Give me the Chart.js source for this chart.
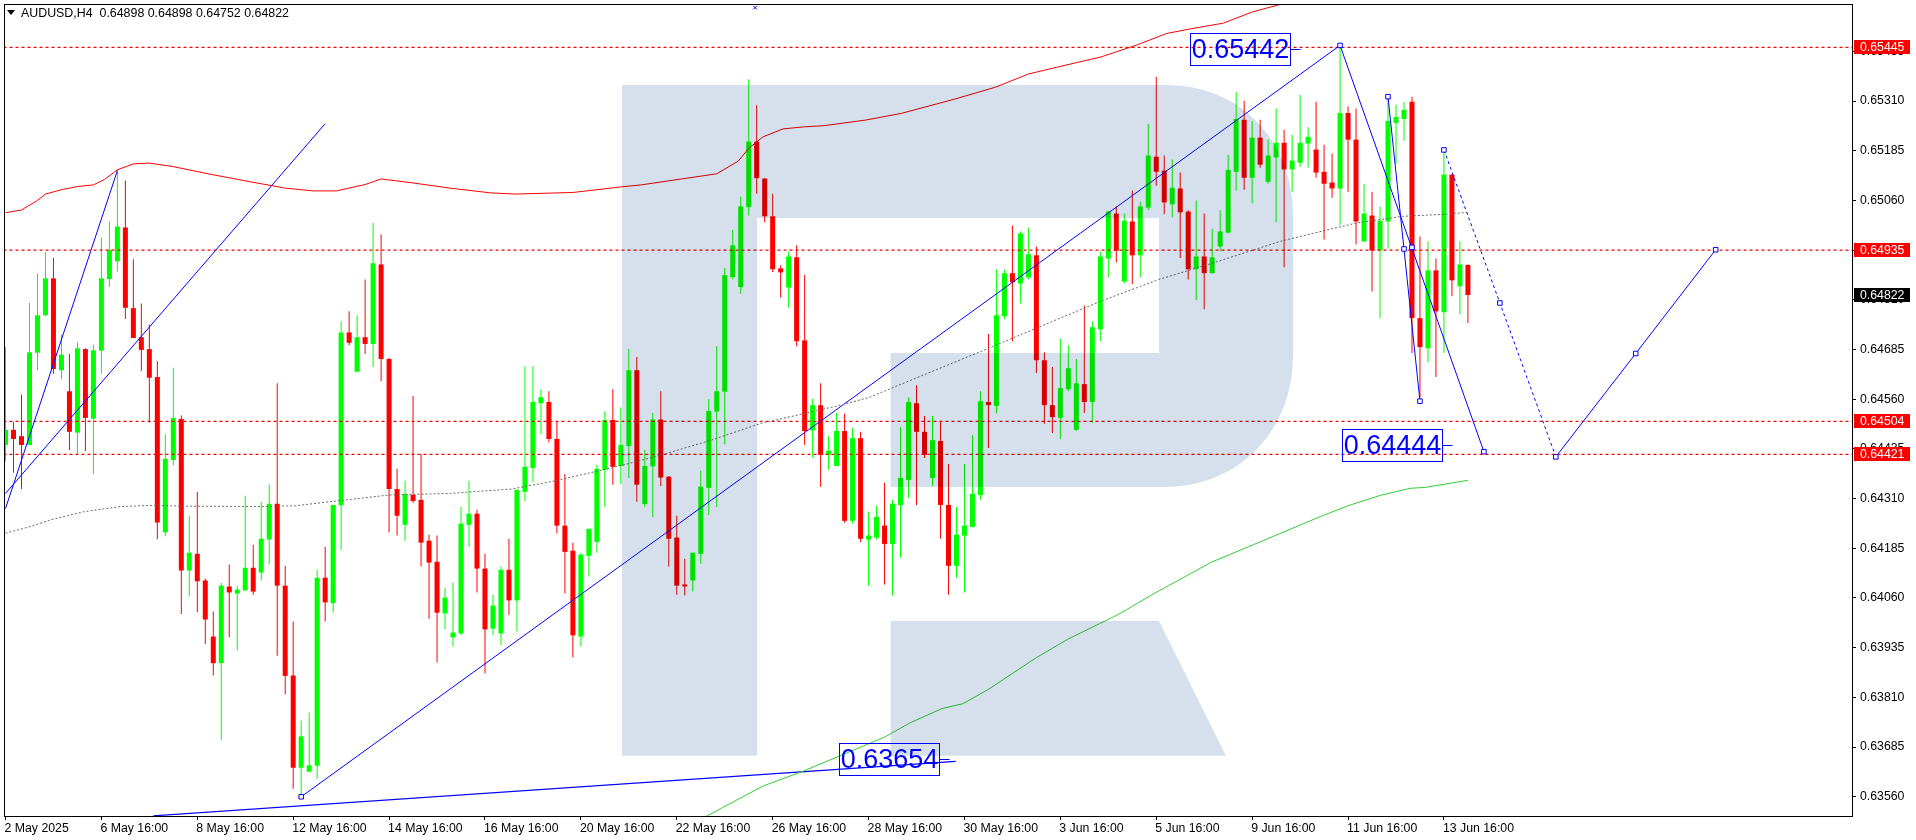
<!DOCTYPE html>
<html>
<head>
<meta charset="utf-8">
<title>AUDUSD,H4</title>
<script src="https://cdn.jsdelivr.net/npm/chart.js@4/dist/chart.umd.min.js"></script>
<style>
  html, body { margin: 0; padding: 0; background: #fff; overflow: hidden; }
  canvas { display: block; }
</style>
</head>
<body>
<canvas id="result" width="1916" height="840"></canvas>
<script>
// prices are kept in points, 64898 = 0.64898
const opens = [
  64445,64483,64467,64445,64677,64771,64864,64633,64580,64476,64686,64511,64682,64862,64907,64992,64789,64716,64686,64616,
  64225,64407,64510,64129,64171,64104,63963,63896,64089,64071,64079,64136,64124,64207,64297,64091,63865,63633,63623,63638,
  64111,64047,64293,64728,64629,64716,64699,64899,64661,64334,64244,64319,64307,64204,64151,64021,63961,63971,64244,64272,
  64134,63983,63971,64131,64054,64327,64387,64550,64553,64460,64242,64179,63963,64166,64201,64382,64508,64392,64442,64633,
  64296,64391,64509,64365,64212,64094,64104,64171,64337,64529,64579,64867,64842,65043,65208,65115,65020,64889,64841,64917,
  64708,64482,64545,64420,64392,64480,64254,64462,64207,64212,64242,64196,64294,64357,64550,64478,64362,64455,64294,64141,
  64217,64239,64319,64553,64543,64769,64877,64851,64866,64922,64658,64545,64513,64585,64483,64598,64553,64736,64914,65027,
  64856,65007,64922,65042,65170,65135,65050,65090,65032,64887,64919,64877,64944,64979,65132,65263,65117,65218,65107,65168,
  65205,65138,65155,65203,65188,65132,65105,65090,65280,65213,64957,65022,64934,65007,65255,65265,65308,64764,64688,64884,
  64779,65125,64844,64898
]
const highs = [
  64691,64503,64572,64802,64877,64930,64915,64723,64674,64704,64688,64697,64967,65007,65135,65110,64912,64801,64748,64656,
  64472,64639,64519,64267,64327,64109,64026,64098,64144,64091,64317,64194,64302,64345,64600,64141,64001,63752,63772,64131,
  64189,64294,64756,64781,64771,64861,65003,64974,64664,64385,64355,64568,64422,64219,64217,64086,64099,64289,64355,64282,
  64171,64068,64139,64209,64332,64643,64643,64585,64580,64505,64372,64199,64174,64234,64395,64530,64585,64540,64686,64666,
  64432,64526,64580,64367,64267,64159,64174,64380,64560,64693,64890,64986,65070,65365,65300,65116,65077,64897,64932,64947,
  64873,64561,64600,64467,64526,64524,64488,64478,64277,64292,64350,64307,64490,64564,64595,64518,64518,64505,64397,64289,
  64397,64470,64580,64724,64886,64886,64997,64982,64992,64944,64678,64641,64713,64696,64661,64796,64756,64932,65032,65045,
  65027,65085,65057,65253,65371,65173,65163,65130,65035,65060,65027,64989,65035,65175,65333,65311,65260,65263,65213,65291,
  65238,65225,65326,65245,65308,65200,65178,65450,65296,65291,65102,65082,65045,65321,65301,65308,65321,64969,64957,64914,
  65187,65125,64957,64898
]
const lows = [
  64403,64375,64334,64445,64633,64769,64624,64611,64432,64421,64430,64371,64624,64842,64881,64762,64714,64631,64501,64208,
  64215,64394,64020,64064,64024,63944,63865,63702,63961,63928,64079,64068,64104,64144,63915,63818,63580,63560,63623,63605,
  64001,64023,64181,64696,64629,64674,64641,64605,64225,64217,64204,64299,64139,64008,63898,63981,63938,63966,64189,64074,
  63870,63966,63941,64018,63976,64304,64352,64472,64452,64222,64071,63910,63938,64114,64174,64289,64345,64347,64362,64302,
  64288,64263,64342,64139,64068,64066,64076,64146,64269,64289,64447,64862,64825,65022,65077,65005,64880,64816,64790,64693,
  64445,64413,64340,64382,64392,64249,64247,64201,64091,64207,64094,64066,64161,64312,64294,64412,64342,64209,64068,64111,
  64074,64237,64307,64437,64524,64761,64706,64801,64861,64626,64498,64475,64460,64580,64480,64525,64501,64706,64866,64904,
  64851,64849,64866,65035,65097,65025,65017,64915,64861,64809,64786,64877,64932,64977,65085,65087,65052,65142,65102,65005,
  64892,65082,65145,65142,65117,64962,65067,64997,65082,64949,64957,64831,64764,64939,65152,65210,64676,64564,64653,64616,
  64676,64819,64774,64752
]
const closes = [
  64483,64460,64445,64678,64771,64864,64636,64672,64478,64688,64513,64683,64864,64936,64994,64790,64714,64684,64614,64250,
  64410,64513,64129,64174,64102,64006,63896,64091,64074,64081,64136,64076,64209,64297,64091,63864,63633,63712,63639,64111,
  64049,64294,64728,64702,64716,64699,64902,64661,64334,64267,64322,64304,64199,64149,64023,64061,63973,64247,64272,64134,
  63981,64041,64131,64054,64332,64390,64553,64565,64460,64242,64176,63966,64169,64234,64385,64508,64390,64445,64633,64345,
  64392,64509,64363,64209,64091,64089,64174,64340,64530,64580,64872,64947,65045,65208,65116,65020,64887,64879,64919,64706,
  64480,64545,64420,64430,64480,64254,64462,64209,64217,64264,64196,64297,64362,64553,64478,64420,64457,64294,64141,64219,
  64242,64322,64555,64545,64771,64877,64854,64977,64924,64658,64545,64515,64588,64638,64600,64553,64741,64919,65032,64934,
  65009,64922,65045,65173,65132,65055,65092,65030,64887,64919,64877,64917,64982,65137,65265,65117,65218,65150,65173,65205,
  65138,65160,65205,65220,65130,65102,65090,65280,65213,65007,65027,64934,65009,65260,65270,65288,64764,64691,64884,64781,
  65125,64859,64899,64822
]

// bollinger bands, read as [bar, price]
const bandUpper = [
  [0,65029],[2,65036],[4,65060],[5,65076],[7,65087],[9,65095],[11,65099],[12.4,65113],[14,65137],[16,65152],[18,65154],
  [21,65145],[25.6,65126],[30.6,65107],[35,65091],[38.5,65084],[41.4,65084],[45,65100],[47,65114],[51,65104],[55.6,65091],
  [60.7,65079],[63.8,65076],[71,65080],[77,65094],[79.5,65099],[84.6,65114],[89,65127],[91.7,65159],[93,65191],[94.8,65220],
  [97.3,65240],[99.9,65245],[102.4,65248],[107.6,65262],[112.1,65279],[118.8,65315],[123.9,65345],[128,65378],[132.6,65400],
  [137.1,65421],[141.7,65452],[145.3,65480],[148.4,65492],[152.4,65506],[156,65534],[159.5,65553],[161,65565]
]
const bandMiddle = [
  [0,64223],[3.2,64240],[5.7,64257],[9.8,64277],[14.4,64290],[18.4,64293],[22.5,64291],[32.2,64290],[36.3,64292],[41.4,64304],
  [48,64319],[55.6,64323],[63.3,64334],[68.4,64353],[76,64388],[79.5,64406],[82.6,64423],[88,64455],[94.8,64501],[96.3,64507],
  [104.5,64545],[108,64564],[115,64622],[122.9,64687],[129,64739],[137,64806],[144.3,64861],[151,64902],[159.5,64957],
  [165,64984],[169,65003],[174.8,65020],[179.9,65025],[183,65030]
]
const bandLower = [
  [87.7,63511],[94.8,63587],[99.9,63625],[110,63710],[113.2,63746],[117.2,63782],[119.8,63794],[122.9,63829],[129,63910],
  [133,63957],[139.2,64018],[143.8,64072],[150.9,64150],[159.6,64223],[164.2,64262],[168,64292],[172,64318],[175.8,64336],
  [177.6,64338],[183,64356]
]

// blue forecast lines
const trendSolid = [
  [[0,64285],[14,65135]],
  [[0,64323],[40,65253]],
  [[37,63560],[167,65450],[185,64428]],
  [[173,65321],[177,64555]],
  [[194,64415],[204,64675],[214,64936]]
]
const trendDashed = [[180,65187],[187,64802],[194,64415]]
const trendBase = [[18.5,63512],[118.9,63649]]
const trendNodes = [
  [37,63560],[167,65450],[185,64428],[173,65321],[177,64555],[175,64938],[176,64942],
  [180,65187],[187,64802],[194,64415],[204,64675],[214,64936]
]
const topCross = [[93.8,65545]]

// levels and price tags
const levels = [65445, 64935, 64504, 64421]
const lastPrice = 64822
const levelTags = [[110.5,63654], [154.5,65442], [173.5,64444]]

const tickPrices = [
  65435,65310,65185,65060,64935,64810,64685,64560,64435,64310,64185,64060,63935,63810,63685,63560
]
const timeTicks = [0,12,24,36,48,60,72,84,96,108,120,132,144,156,168,180]
const timeLabels = [
  '2 May 2025','6 May 16:00','8 May 16:00','12 May 16:00','14 May 16:00','16 May 16:00','20 May 16:00','22 May 16:00',
  '26 May 16:00','28 May 16:00','30 May 16:00','3 Jun 16:00','5 Jun 16:00','9 Jun 16:00','11 Jun 16:00','13 Jun 16:00'
]
const header = 'AUDUSD,H4  0.64898 0.64898 0.64752 0.64822'

const UP = '#00ff00'
const DOWN = '#ff0000'
const BLUE = '#0000ff'
const FONT = '12.3px "Liberation Sans"'

const points = (list) => list.map(([x, y]) => ({ x, y }))
const candleColors = closes.map((c, i) => (c >= opens[i] ? UP : DOWN))

function lineSet(list, color, extra) {
  return Object.assign({
    type: 'line',
    data: points(list),
    borderColor: color,
    borderWidth: 1,
    pointRadius: 0,
    tension: 0,
    order: 1
  }, extra)
}

// the broker watermark, multiplied over the candles
const watermark = {
  id: 'watermark',
  afterDatasetsDraw(chart) {
    const { ctx, chartArea } = chart
    ctx.save()
    ctx.beginPath()
    ctx.rect(chartArea.left, chartArea.top, chartArea.width, chartArea.height)
    ctx.clip()
    ctx.globalCompositeOperation = 'multiply'
    ctx.fillStyle = '#d5e0ec'
    ctx.beginPath()
    ctx.moveTo(622, 85)
    ctx.lineTo(1166, 85)
    ctx.bezierCurveTo(1240, 85, 1293, 140, 1293, 215)
    ctx.lineTo(1293, 355)
    ctx.bezierCurveTo(1293, 430, 1240, 487, 1164, 487)
    ctx.lineTo(890.6, 487)
    ctx.lineTo(890.6, 353)
    ctx.lineTo(1159, 353)
    ctx.lineTo(1159, 218)
    ctx.lineTo(757, 218)
    ctx.lineTo(757, 755.7)
    ctx.lineTo(622, 755.7)
    ctx.closePath()
    ctx.moveTo(890.6, 621)
    ctx.lineTo(1159, 621)
    ctx.lineTo(1226, 755.7)
    ctx.lineTo(890.6, 755.7)
    ctx.closePath()
    ctx.fill()
    ctx.restore()
  }
}

// frame, header, boxed price tags and the coloured labels on the price axis
const overlays = {
  id: 'overlays',
  afterDraw(chart) {
    const { ctx, chartArea, scales } = chart
    ctx.save()
    ctx.strokeStyle = '#000'
    ctx.lineWidth = 1
    ctx.strokeRect(chartArea.left - 0.5, chartArea.top - 0.5, chartArea.width + 1, chartArea.height + 1)

    ctx.fillStyle = '#000'
    ctx.beginPath()
    ctx.moveTo(7, 10)
    ctx.lineTo(15, 10)
    ctx.lineTo(11, 15)
    ctx.closePath()
    ctx.fill()
    ctx.font = '12.4px "Liberation Sans"'
    ctx.textBaseline = 'alphabetic'
    ctx.textAlign = 'left'
    ctx.fillText(header, 21, 17)

    levelTags.forEach(([bar, price]) => {
      const x = Math.round(scales.x.getPixelForValue(bar)) + 0.5
      const y = Math.round(scales.y.getPixelForValue(price)) + 0.5
      ctx.strokeStyle = BLUE
      ctx.strokeRect(x - 50, y - 16, 100, 32)
      ctx.beginPath()
      ctx.moveTo(x + 50, y)
      ctx.lineTo(x + 60, y)
      ctx.stroke()
      ctx.fillStyle = BLUE
      ctx.font = '27px "Liberation Sans"'
      ctx.textAlign = 'center'
      ctx.textBaseline = 'middle'
      ctx.fillText((price / 100000).toFixed(5), x, y + 1)
    })

    const axisTag = (price, color) => {
      const y = scales.y.getPixelForValue(price)
      ctx.fillStyle = color
      ctx.fillRect(chartArea.right + 2, Math.round(y) - 7, 56, 14)
      ctx.fillStyle = '#fff'
      ctx.font = FONT
      ctx.textAlign = 'left'
      ctx.textBaseline = 'middle'
      ctx.fillText((price / 100000).toFixed(5), chartArea.right + 8, Math.round(y) + 0.5)
    }
    levels.forEach((level) => axisTag(level, DOWN))
    axisTag(lastPrice, '#000')
    ctx.restore()
  }
}

function dropPadding(scale) {
  scale.paddingTop = 0
  scale.paddingBottom = 0
  scale.paddingLeft = 0
  scale.paddingRight = 0
}

const ctx = document.getElementById('result').getContext('2d')
const chart = new Chart(ctx, {
  type: 'bar',
  data: {
    datasets: [
      lineSet(bandUpper, '#ff0000'),
      lineSet(bandMiddle, '#696969', { borderDash: [2, 2] }),
      lineSet(bandLower, '#32cd32'),
      ...trendSolid.map((t) => lineSet(t, BLUE)),
      lineSet(trendDashed, BLUE, { borderDash: [3, 3] }),
      lineSet(trendBase, BLUE, { borderWidth: 1.2 }),
      ...levels.map((l) => lineSet([[-1, l], [232, l]], DOWN, { borderDash: [3, 3], borderWidth: 1.2 })),
      lineSet(trendNodes, BLUE, {
        showLine: false,
        pointRadius: 3.2,
        pointStyle: 'rect',
        pointBackgroundColor: '#fff',
        pointBorderColor: BLUE,
        pointBorderWidth: 1,
        order: 0
      }),
      lineSet(topCross, BLUE, {
        showLine: false,
        pointRadius: 2.5,
        pointStyle: 'crossRot',
        pointBorderColor: BLUE,
        pointBorderWidth: 1,
        order: 0
      }),
      {
        data: opens.map((o, i) => ({ x: i, y: [o, closes[i]] })),
        backgroundColor: candleColors,
        barThickness: 5,
        borderWidth: 0,
        inflateAmount: 0,
        grouped: false,
        order: 2
      },
      {
        data: opens.map((o, i) => ({ x: i, y: [lows[i], highs[i]] })),
        backgroundColor: candleColors,
        barThickness: 1,
        borderWidth: 0,
        inflateAmount: 0,
        grouped: false,
        order: 3
      }
    ]
  },
  options: {
    responsive: false,
    devicePixelRatio: 1,
    animation: false,
    layout: { padding: { left: 3, top: 3, right: 0, bottom: 0 } },
    plugins: { legend: { display: false }, tooltip: { enabled: false }, title: { display: false } },
    scales: {
      x: {
        type: 'linear',
        offset: false,
        min: -0.0625,
        max: 231.0625,
        afterBuildTicks: (scale) => { scale.ticks = timeTicks.map((value) => ({ value })) },
        afterFit: (scale) => { scale.height = 24; dropPadding(scale) },
        grid: { drawOnChartArea: false, offset: false, color: '#000', tickLength: 4 },
        border: { color: '#000' },
        ticks: {
          autoSkip: false,
          maxRotation: 0,
          align: 'start',
          labelOffset: -1,
          padding: 1,
          color: '#000',
          font: { family: 'Liberation Sans', size: 12.3 },
          callback: (value, index) => timeLabels[index]
        }
      },
      y: {
        position: 'right',
        min: 63511.6,
        max: 65551.6,
        afterBuildTicks: (scale) => { scale.ticks = tickPrices.map((value) => ({ value })) },
        afterFit: (scale) => { scale.width = 64; dropPadding(scale) },
        grid: { drawOnChartArea: false, color: '#000', tickLength: 4 },
        border: { color: '#000' },
        ticks: {
          autoSkip: false,
          padding: 4,
          color: '#000',
          font: { family: 'Liberation Sans', size: 12.3 },
          callback: (value) => (value / 100000).toFixed(5)
        }
      }
    }
  },
  plugins: [watermark, overlays]
})
</script>
</body>
</html>
